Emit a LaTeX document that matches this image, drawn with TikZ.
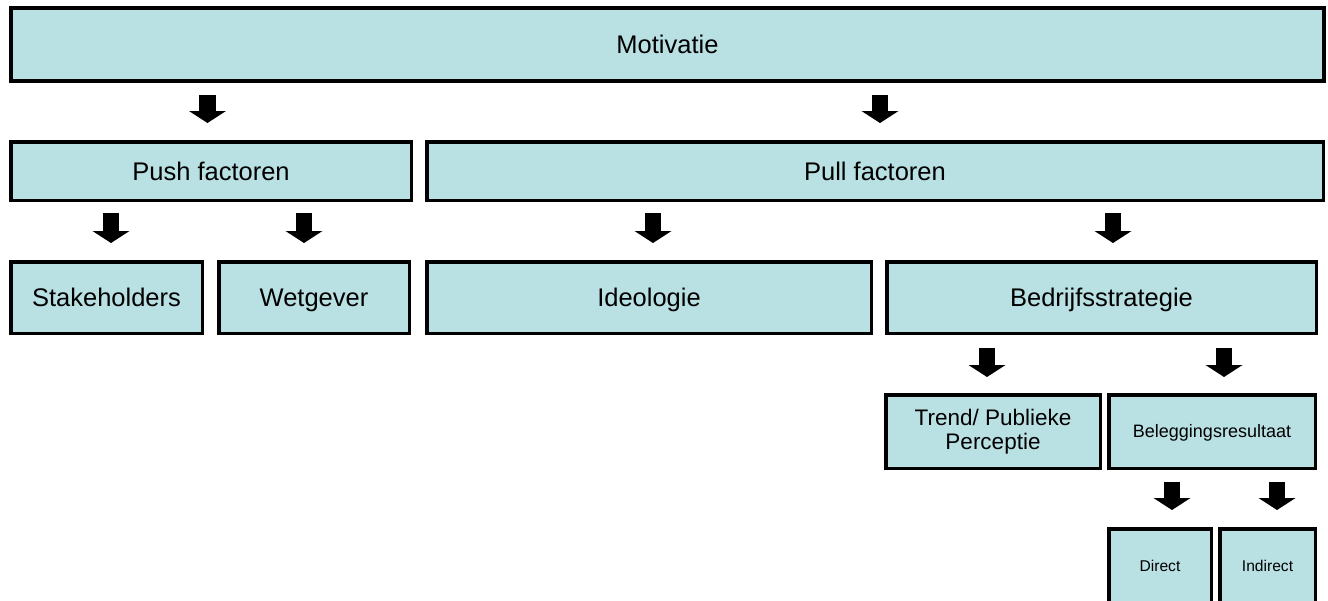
\documentclass[tikz,border=0pt]{standalone}
\usepackage{fontspec}
\setmainfont{Liberation Sans}
\usetikzlibrary{arrows.meta}
\definecolor{boxfill}{RGB}{185,224,227}
\tikzset{
  box/.style={draw=black, fill=boxfill, line width=3.5pt, inner sep=0pt,
    align=center},
  % single-line labels: capitals centred in the box
  bigtext/.style={font=\fontsize{25.5}{28}\selectfont, text height=18.3pt, text depth=0pt},
  midtext/.style={font=\fontsize{18}{21}\selectfont, text height=12.9pt, text depth=0pt},
  smalltext/.style={font=\fontsize{15.6}{18}\selectfont, text height=11.2pt, text depth=0pt},
  downarrow/.style={line width=16.5pt, draw=black,
    -{Triangle[width=37pt, length=12pt, line width=0pt]}}
}
\begin{document}
\begin{tikzpicture}[x=1pt, y=-1pt]
\useasboundingbox (0,0) rectangle (1328,600);
\begin{scope}
\clip (0,0) rectangle (1328,600);
% boxes, top level
\node[box, bigtext, line width=4pt, minimum width=1313pt, minimum height=73pt] (mot) at (667.5,44.5) {Motivatie};
% second level
\node[box, bigtext, minimum width=400.5pt, minimum height=58.5pt] (push) at (211,171) {Push factoren};
\node[box, bigtext, minimum width=896.5pt, minimum height=58.5pt] (pull) at (875,171) {Pull factoren};
% third level
\node[box, bigtext, minimum width=191.5pt, minimum height=71.5pt] (stake) at (106.5,297.5) {Stakeholders};
\node[box, bigtext, minimum width=190.5pt, minimum height=71.5pt] (wet) at (314,297.5) {Wetgever};
\node[box, bigtext, minimum width=444.5pt, minimum height=71.5pt] (ideo) at (649,297.5) {Ideologie};
\node[box, bigtext, minimum width=429.5pt, minimum height=71.5pt] (bedr) at (1101.5,297.5) {Bedrijfsstrategie};
% fourth level
\node[box, minimum width=214.5pt, minimum height=73.5pt,
  font=\fontsize{22.5}{24}\selectfont] (trend) at (993,431.5) {Trend/ Publieke\\Perceptie};
\node[box, midtext, minimum width=206.5pt, minimum height=73.5pt] (beleg) at (1212,431.5) {Beleggingsresultaat};
% fifth level
\node[box, smalltext, minimum width=102.5pt, minimum height=74.5pt] (direct) at (1160,566) {Direct};
\node[box, smalltext, minimum width=95.5pt, minimum height=74.5pt] (indirect) at (1267.5,566) {Indirect};
\end{scope}
% arrow end points
\coordinate (a1s) at (207.5,95);  \coordinate (a1e) at (207.5,123);
\coordinate (a2s) at (880,95);    \coordinate (a2e) at (880,123);
\coordinate (b1s) at (111,213);   \coordinate (b1e) at (111,243);
\coordinate (b2s) at (304,213);   \coordinate (b2e) at (304,243);
\coordinate (b3s) at (653,213);   \coordinate (b3e) at (653,243);
\coordinate (b4s) at (1113,213);  \coordinate (b4e) at (1113,243);
\coordinate (c1s) at (987,348);   \coordinate (c1e) at (987,377);
\coordinate (c2s) at (1224,348);  \coordinate (c2e) at (1224,377);
\coordinate (d1s) at (1172,482);  \coordinate (d1e) at (1172,510);
\coordinate (d2s) at (1277,482);  \coordinate (d2e) at (1277,510);
% block arrows
\foreach \p in {a1,a2,b1,b2,b3,b4,c1,c2,d1,d2}
  \draw[downarrow] (\p s) -- (\p e);
\end{tikzpicture}
\end{document}
